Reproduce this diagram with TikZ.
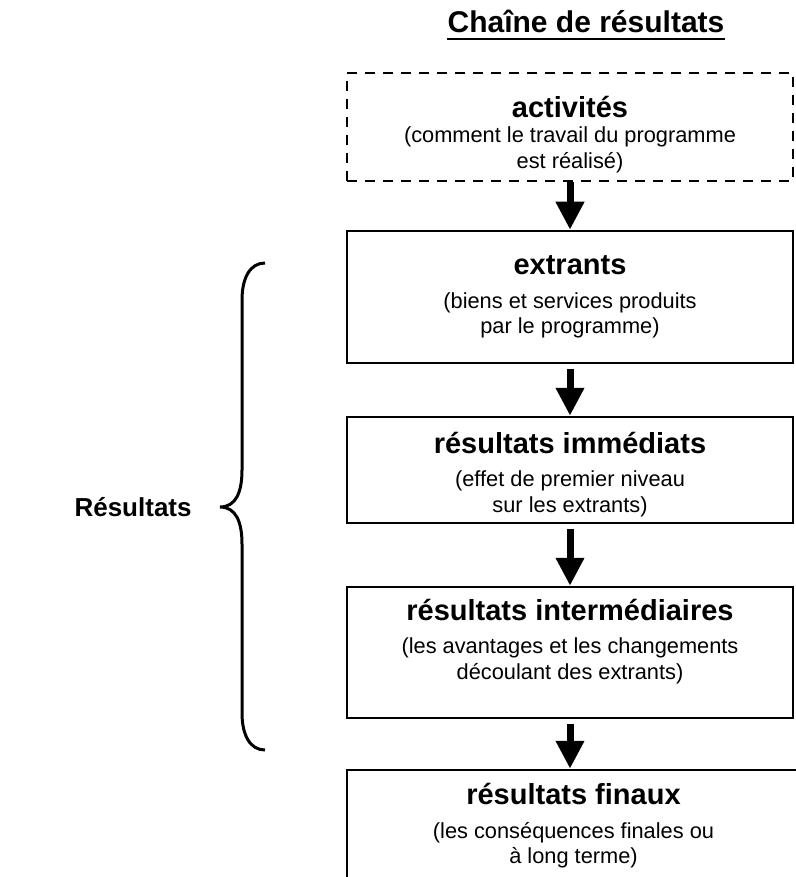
\documentclass[tikz,border=0pt]{standalone}
\usepackage{fontspec}
\setmainfont{Liberation Sans}
\usetikzlibrary{arrows.meta}
\newcommand{\headfont}{\fontsize{14.5}{17}\selectfont\bfseries}
\newcommand{\subfont}{\fontsize{10.9}{12.75}\selectfont}

\begin{document}
\begin{tikzpicture}[x=0.5pt, y=-0.5pt,
      box/.style={draw, line width=1.25pt, align=center, font=\subfont, inner sep=0pt, minimum width=223pt},
      plan/.style={box, dash pattern=on 5pt off 4pt},
      flow/.style={-{Triangle[width=13.5pt,length=14pt]}, line width=3.5pt},
    ]
    \useasboundingbox (0,0) rectangle (796,877);
    \clip (0,0) rectangle (796,877);
    \node[font=\fontsize{15}{18}\selectfont\bfseries, inner sep=0pt, anchor=base] (title) at (586,33) {Chaîne de résultats};
    \draw[line width=1pt] ([yshift=-3.25pt]title.base west) -- ([yshift=-3.25pt]title.base east);
    \node[plan, minimum height=54pt] (act) at (570,127) {\rule{0pt}{18pt}{\headfont activités}\\(comment le travail du programme\\est réalisé)};
    \node[box, minimum height=66pt] (ext) at (570,297) {{\headfont extrants}\\[4pt](biens et services produits\\par le programme)};
    \node[box, minimum height=53pt] (imm) at (570,470) {\rule{0pt}{15pt}{\headfont résultats immédiats}\\[4pt](effet de premier niveau\\sur les extrants)};
    \node[box, minimum height=65.5pt] (inter) at (570,652.5) {{\headfont résultats intermédiaires}\\[4pt](les avantages et les changements\\découlant des extrants)\rule[-13.3pt]{0pt}{13.3pt}};
    \node[box, minimum height=56pt, minimum width=226.5pt] (fin) at (573.5,826) {{\headfont résultats finaux}\\[4pt](les conséquences finales ou\\à long terme)};
    \draw[flow] (act) -- (ext);
    \draw[flow, shorten <=2.5pt] (ext) -- (imm);
    \draw[flow, shorten <=2.5pt] (imm) -- (inter);
    \draw[flow, shorten <=2.5pt] (inter.south) -- (inter.south |- fin.north);
    % accolade
    \draw[line width=1.5pt] (265,263) .. controls (250,263) and (242,278) .. (242,300) -- (242,470)
      .. controls (242,492) and (236,507) .. (220,507) .. controls (236,507) and (242,522) .. (242,544)
      -- (242,713) .. controls (242,735) and (250,750) .. (265,750);
    \node[font=\fontsize{13}{15}\selectfont\bfseries, inner sep=0pt, anchor=east] (res) at (192,507) {Résultats};
  \end{tikzpicture}
\end{document}
